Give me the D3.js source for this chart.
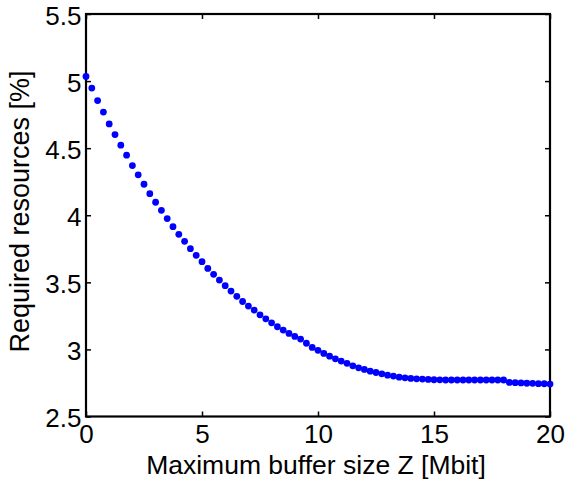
<!DOCTYPE html>
<html><head><meta charset="utf-8">
<script src="https://cdn.jsdelivr.net/npm/d3@7"></script>
<style>
body{margin:0;background:#fff;}
text{font-family:"Liberation Sans",Arial,sans-serif;}
</style></head>
<body><svg id="c" width="566" height="483"></svg>
<script>
const bufferSize = d3.range(0, 20.001, 0.25);
const requiredResources = [
 5.034,4.948,4.855,4.769,4.681,4.601,4.522,4.448,
 4.370,4.301,4.231,4.161,4.097,4.037,3.975,3.915,
 3.858,3.806,3.751,3.701,3.654,3.604,3.560,3.517,
 3.475,3.435,3.396,3.357,3.323,3.293,3.258,3.228,
 3.198,3.169,3.144,3.119,3.097,3.077,3.046,3.015,
 2.993,2.970,2.950,2.930,2.913,2.896,2.878,2.863,
 2.851,2.838,2.828,2.818,2.808,2.801,2.793,2.788,
 2.784,2.781,2.779,2.776,2.774,2.773,
 2.772,2.772,2.772,2.772,2.772,2.772,2.772,2.772,2.772,2.772,2.772,
 2.754,2.752,2.750,2.748,2.747,2.745,2.744,2.742
];
const xTicks = [0,5,10,15,20];
const yTicks = [2.5,3,3.5,4,4.5,5,5.5];
const xLabel = "Maximum buffer size Z [Mbit]";
const yLabel = "Required resources [%]";

const L=86, R=550, T=14, B=416.5;
const svg=d3.select("#c");
const x=d3.scaleLinear().domain([0,20]).range([L,R]);
const y=d3.scaleLinear().domain([2.5,5.5]).range([B,T]);

const tl=5;
const gx=svg.append("g").attr("transform",`translate(0,${B})`)
  .call(d3.axisBottom(x).tickValues(xTicks).tickSize(-tl).tickPadding(8.5).tickFormat(d3.format("d")));
const gxt=svg.append("g").attr("transform",`translate(0,${T})`)
  .call(d3.axisTop(x).tickValues(xTicks).tickSize(-tl).tickFormat(""));
const gy=svg.append("g").attr("transform",`translate(${L},0)`)
  .call(d3.axisLeft(y).tickValues(yTicks).tickSize(-tl).tickPadding(4.5).tickFormat(d=>String(d)));
const gyr=svg.append("g").attr("transform",`translate(${R},0)`)
  .call(d3.axisRight(y).tickValues(yTicks).tickSize(-tl).tickFormat(""));
[gx,gxt,gy,gyr].forEach(g=>{
  g.select(".domain").remove();
  g.selectAll(".tick line").attr("stroke","#000").attr("stroke-width",1.5);
  g.selectAll(".tick text").attr("fill","#000").style("font-size","26px");
});
gy.selectAll(".tick text").attr("dy","0.4em");
gx.selectAll(".tick text").attr("dy","0.71em");

svg.append("rect").attr("x",L).attr("y",T).attr("width",R-L).attr("height",B-T)
  .attr("fill","none").attr("stroke","#000").attr("stroke-width",2.2);

svg.append("g").selectAll("circle").data(bufferSize.map((v,i)=>[v,requiredResources[i]]))
  .join("circle").attr("cx",d=>x(d[0])).attr("cy",d=>y(d[1])).attr("r",3.4).attr("fill","#0000ff");

svg.append("text").attr("x",(L+R)/2-2).attr("y",474).attr("text-anchor","middle")
  .style("font-size","26.5px").attr("fill","#000").text(xLabel);
svg.append("text").attr("transform",`translate(29,211.5) rotate(-90)`).attr("text-anchor","middle")
  .style("font-size","27px").attr("fill","#000").text(yLabel);
</script></body></html>
